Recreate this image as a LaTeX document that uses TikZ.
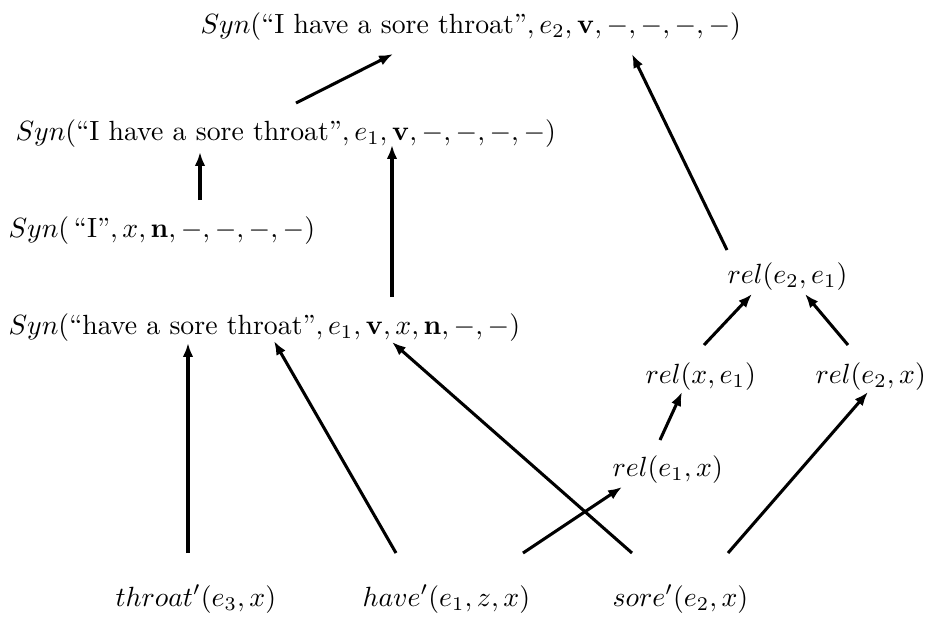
\documentclass[tikz,border=0pt]{standalone}
\usetikzlibrary{arrows.meta}
\begin{document}
\begin{tikzpicture}[x=0.36pt,y=-0.36pt,
  lbl/.style={inner sep=0pt, anchor=base west, font=\fontsize{10}{12}\selectfont},
  arr/.style={line width=1.1pt, -{Latex[length=5pt,width=3.8pt]}}]
\useasboundingbox (0,0) rectangle (930,626);
% nodes
\node[lbl] (T)   at (200,33)  {$Syn(\mbox{``I have a sore throat''}, e_2,\mathbf{v},-,-,-,-)$};
\node[lbl] (L2)  at (15,140)  {$Syn(\mbox{``I have a sore throat''}, e_1,\mathbf{v},-,-,-,-)$};
\node[lbl] (L3)  at (8,237)   {$Syn(\,\mbox{``I''}, x,\mathbf{n},-,-,-,-)$};
\node[lbl] (L4)  at (8,334)   {$Syn(\mbox{``have a sore throat''}, e_1,\mathbf{v},x,\mathbf{n},-,-)$};
\node[lbl] (R21) at (727,283) {$rel(e_2,e_1)$};
\node[lbl] (Rx1) at (645,383) {$rel(x,e_1)$};
\node[lbl] (R2x) at (815,383) {$rel(e_2,x)$};
\node[lbl] (R1x) at (612,476) {$rel(e_1,x)$};
\node[lbl] (TH)  at (115,606) {$throat'(e_3,x)$};
\node[lbl] (HV)  at (362,606) {$have'(e_1,z,x)$};
\node[lbl] (SO)  at (612,606) {$sore'(e_2,x)$};
% connectors
\draw[arr] ([shift={(281,-37)}]L2.base west) -- ([shift={(193,21)}]T.base west);
\draw[arr] ([shift={(192,-37)}]L3.base west) -- ([shift={(185,12)}]L2.base west);
\draw[arr] ([shift={(384,-37)}]L4.base west) -- ([shift={(377,5)}]L2.base west);
\draw[arr] ([shift={(0,-33)}]R21.base west) -- ([shift={(432,21)}]T.base west);
\draw[arr] ([shift={(59,-38)}]Rx1.base west) -- ([shift={(25,11)}]R21.base west);
\draw[arr] ([shift={(33,-38)}]R2x.base west) -- ([shift={(78,11)}]R21.base west);
\draw[arr] ([shift={(48,-36)}]R1x.base west) -- ([shift={(37,9)}]Rx1.base west);
\draw[arr] ([shift={(161,-53)}]HV.base west) -- ([shift={(10,11)}]R1x.base west);
\draw[arr] ([shift={(116,-53)}]SO.base west) -- ([shift={(53,9)}]R2x.base west);
\draw[arr] ([shift={(73,-53)}]TH.base west) -- ([shift={(180,9)}]L4.base west);
\draw[arr] ([shift={(34,-53)}]HV.base west) -- ([shift={(266,7)}]L4.base west);
\draw[arr] ([shift={(20,-53)}]SO.base west) -- ([shift={(384,8)}]L4.base west);
\end{tikzpicture}
\end{document}
